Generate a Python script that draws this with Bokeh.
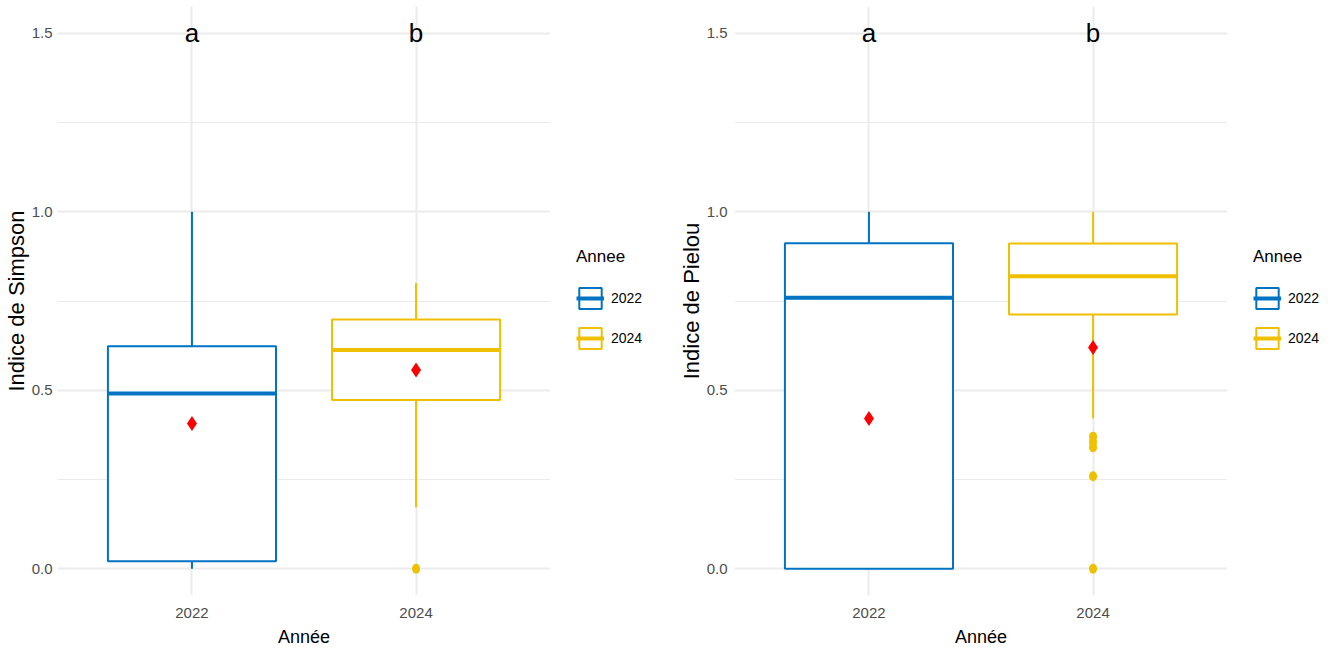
from bokeh.plotting import figure
from bokeh.layouts import row
from bokeh.models import (Range1d, FixedTicker, PrintfTickFormatter, Legend,
                          LegendItem, ColumnDataSource)
from bokeh.core.properties import value
from bokeh.embed import file_html
from bokeh.resources import INLINE

# ---- data -------------------------------------------------------------
years = ["2022", "2024"]
year_pos = [1, 2]
year_colors = ["#0073C2", "#EFC000"]
letters = ["a", "b"]
letter_y = 1.5

# Simpson index: box statistics per year
simpson_lo = [0.0, 0.172]
simpson_q1 = [0.021, 0.473]
simpson_med = [0.491, 0.613]
simpson_q3 = [0.623, 0.698]
simpson_hi = [1.0, 0.80]
simpson_mean = [0.407, 0.557]
simpson_out_year = ["2024"]
simpson_out_val = [0.0]

# Pielou index: box statistics per year
pielou_lo = [0.0, 0.421]
pielou_q1 = [0.0, 0.712]
pielou_med = [0.759, 0.819]
pielou_q3 = [0.912, 0.911]
pielou_hi = [1.0, 1.0]
pielou_mean = [0.421, 0.62]
pielou_out_year = ["2024", "2024", "2024", "2024", "2024"]
pielou_out_val = [0.37, 0.355, 0.34, 0.259, 0.0]

y_ticks = [0.0, 0.5, 1.0, 1.5]
y_minor = [0.25, 0.75, 1.25]

FONT = "Liberation Sans"
BOX_W = 0.75
PLOT_H = 651
NAN = float("nan")


def box_panel(ylabel, lo, q1, med, q3, hi, mean, out_year, out_val,
              border_left, tick_standoff):
    p = figure(frame_width=493, frame_height=589,
               min_border_left=border_left, min_border_right=0,
               min_border_top=6, min_border_bottom=56,
               x_range=Range1d(0.4, 2.6), y_range=Range1d(-0.075, 1.575),
               output_backend="svg", toolbar_location=None)
    p.outline_line_color = None
    p.background_fill_color = "white"
    p.border_fill_color = "white"

    src = ColumnDataSource(dict(
        x=year_pos,
        left=[x - BOX_W / 2 for x in year_pos],
        right=[x + BOX_W / 2 for x in year_pos],
        lo=lo, q1=q1, med=med, q3=q3, hi=hi, mean=mean,
        color=year_colors, label=letters, ly=[letter_y] * len(year_pos),
    ))

    # whiskers
    p.segment(x0="x", y0="q3", x1="x", y1="hi", source=src,
              line_color="color", line_width=2)
    p.segment(x0="x", y0="lo", x1="x", y1="q1", source=src,
              line_color="color", line_width=2)
    # boxes and medians
    p.quad(left="left", right="right", bottom="q1", top="q3",
           source=src, fill_color="white", line_color="color", line_width=2)
    p.segment(x0="left", y0="med", x1="right", y1="med",
              source=src, line_color="color", line_width=4)

    # outliers
    ox = [year_pos[years.index(y)] for y in out_year]
    oc = [year_colors[years.index(y)] for y in out_year]
    p.ellipse(x=ox, y=out_val, width=8, height=10, width_units="screen",
              height_units="screen", fill_color=oc, line_color=None)

    # group means
    p.scatter(x="x", y="mean", source=src, marker="diamond", size=15,
              fill_color="red", line_color=None)

    # significance letters
    p.text(x="x", y="ly", text="label", source=src, text_align="center",
           text_baseline="alphabetic", text_font=value(FONT),
           text_font_size="26px", text_color="black")

    # axes
    p.xaxis.ticker = FixedTicker(ticks=year_pos)
    p.xaxis.major_label_overrides = {x: y for x, y in zip(year_pos, years)}
    p.yaxis.ticker = FixedTicker(ticks=y_ticks, minor_ticks=y_minor)
    p.yaxis.formatter = PrintfTickFormatter(format="%.1f")
    for ax in (p.xaxis[0], p.yaxis[0]):
        ax.axis_line_color = None
        ax.major_tick_line_color = None
        ax.minor_tick_line_color = None
        ax.major_tick_out = 0
        ax.major_tick_in = 0
        ax.minor_tick_out = 0
        ax.minor_tick_in = 0
        ax.major_label_text_color = "#4d4d4d"
        ax.major_label_text_font = FONT
        ax.major_label_text_font_size = "15px"
        ax.axis_label_text_font = FONT
        ax.axis_label_text_font_style = "normal"
        ax.axis_label_text_color = "black"
    p.xaxis.axis_label = "Année"
    p.xaxis.axis_label_text_font_size = "18px"
    p.xaxis.major_label_standoff = 12
    p.xaxis.axis_label_standoff = 6
    p.yaxis.axis_label = ylabel
    p.yaxis.axis_label_text_font_size = "22px"
    p.yaxis.major_label_standoff = tick_standoff
    p.yaxis.axis_label_standoff = 0

    # grid
    p.ygrid.ticker = FixedTicker(ticks=y_ticks, minor_ticks=y_minor)
    p.ygrid.grid_line_color = "#ebebeb"
    p.ygrid.grid_line_width = 2
    p.ygrid.minor_grid_line_color = "#ebebeb"
    p.ygrid.minor_grid_line_width = 1.2
    p.xgrid.ticker = FixedTicker(ticks=year_pos)
    p.xgrid.grid_line_color = "#ebebeb"
    p.xgrid.grid_line_width = 2
    return p


def legend_panel(width):
    """Narrow strip holding the 'Annee' legend to the right of a panel."""
    lg = figure(width=width, height=PLOT_H, min_border=0,
                x_range=Range1d(0, 1), y_range=Range1d(0, 1),
                x_axis_location=None, y_axis_location=None,
                output_backend="svg", toolbar_location=None)
    lg.outline_line_color = None
    lg.grid.visible = False
    lg.background_fill_color = "white"
    lg.border_fill_color = "white"
    items = []
    for y, c in zip(years, year_colors):
        # key glyphs only: one off-canvas row so the legend can draw them
        key_box = lg.quad(left=[NAN], right=[NAN], bottom=[NAN], top=[NAN],
                          fill_color="white", line_color=c, line_width=2)
        key_med = lg.segment(x0=[NAN], y0=[NAN], x1=[NAN], y1=[NAN],
                             line_color=c, line_width=4)
        items.append(LegendItem(label=y, renderers=[key_box, key_med]))
    legend = Legend(items=items, location=(26, 244), title="Annee",
                    title_text_font=FONT, title_text_font_size="17px",
                    title_text_font_style="normal",
                    title_text_color="black", title_standoff=18,
                    label_text_font=FONT, label_text_font_size="14px",
                    label_text_color="black", label_standoff=7,
                    glyph_width=28, glyph_height=26, label_height=26,
                    spacing=14, padding=0, margin=0,
                    border_line_color=None, background_fill_alpha=0)
    lg.add_layout(legend, "center")
    return lg


p1 = box_panel("Indice de Simpson", simpson_lo, simpson_q1, simpson_med,
               simpson_q3, simpson_hi, simpson_mean, simpson_out_year,
               simpson_out_val, 57, 5)
p2 = box_panel("Indice de Pielou", pielou_lo, pielou_q1, pielou_med,
               pielou_q3, pielou_hi, pielou_mean, pielou_out_year,
               pielou_out_val, 68, 7)

layout = row(p1, legend_panel(116), p2, legend_panel(105))
open("out.html", "w").write(file_html(layout, INLINE))
